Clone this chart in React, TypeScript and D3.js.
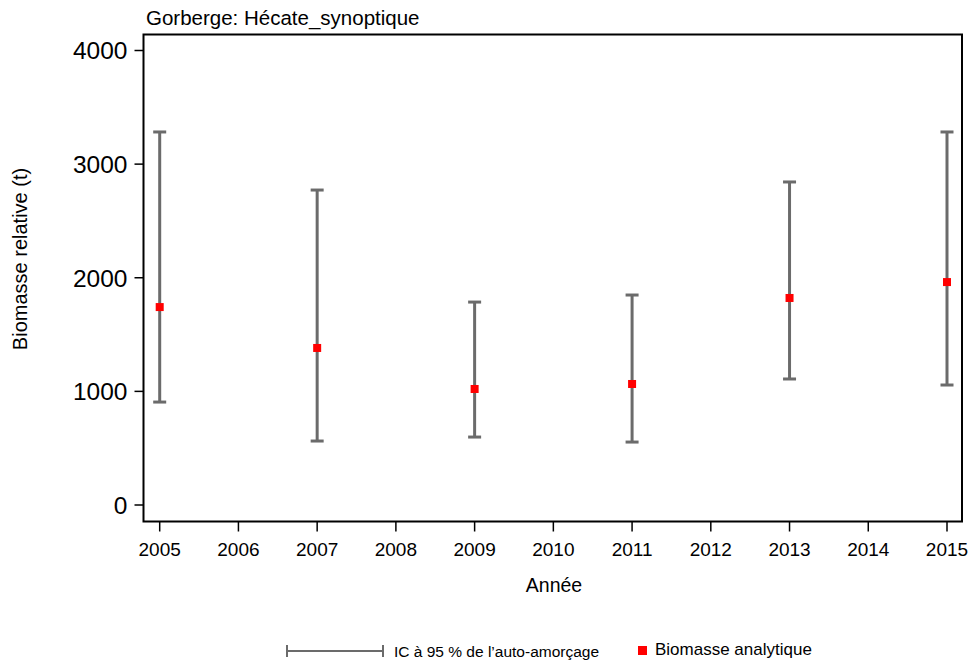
import React from "react";
import * as d3 from "d3";

const years = [2005, 2007, 2009, 2011, 2013, 2015];
const biomass = [1742, 1382, 1021, 1065, 1822, 1962];
const lower = [906, 563, 598, 554, 1109, 1056];
const upper = [3283, 2772, 1786, 1848, 2843, 3283];
const xTicks = [2005, 2006, 2007, 2008, 2009, 2010, 2011, 2012, 2013, 2014, 2015];
const yTicks = [0, 1000, 2000, 3000, 4000];

const W = 972;
const H = 660;
const FONT = "'Liberation Sans', Arial, sans-serif";

export default function App() {
  const left = 143.5, right = 962, top = 34.5, bottom = 521.5;
  const x = d3.scaleLinear().domain([2005, 2015]).range([159.7, 947]);
  const y = d3.scaleLinear().domain([0, 4000]).range([505, 50.5]);
  const grey = "#6b6b6b";
  const cap = 6.5;
  return (
    <svg width={W} height={H} style={{ position: "absolute", left: 0, top: 0, background: "#fff" }} fontFamily={FONT}>
      <text x={146} y={25} fontSize={20.5} fill="#000">Gorberge: Hécate_synoptique</text>
      {/* frame */}
      <rect x={left} y={top} width={right - left} height={bottom - top} fill="none" stroke="#000" strokeWidth={2} />
      {/* y axis */}
      {yTicks.map((t) => (
        <g key={t}>
          <line x1={left - 9} x2={left} y1={y(t)} y2={y(t)} stroke="#000" strokeWidth={1.5} />
          <text x={left - 16} y={y(t)} dy="0.36em" textAnchor="end" fontSize={24.5} fill="#000">{t}</text>
        </g>
      ))}
      {/* x axis */}
      {xTicks.map((t) => (
        <g key={t}>
          <line x1={x(t)} x2={x(t)} y1={bottom} y2={bottom + 10} stroke="#000" strokeWidth={1.5} />
          <text x={x(t)} y={556} textAnchor="middle" fontSize={19} fill="#000">{t}</text>
        </g>
      ))}
      <text x={554} y={592} textAnchor="middle" fontSize={19.5} fill="#000">Année</text>
      <text transform={`translate(27,${259}) rotate(-90)`} textAnchor="middle" fontSize={20} fill="#000">Biomasse relative (t)</text>
      {/* error bars */}
      {years.map((yr, i) => (
        <g key={yr}>
          <line x1={x(yr)} x2={x(yr)} y1={y(lower[i])} y2={y(upper[i])} stroke={grey} strokeWidth={3} />
          <line x1={x(yr) - cap} x2={x(yr) + cap} y1={y(upper[i])} y2={y(upper[i])} stroke={grey} strokeWidth={3} />
          <line x1={x(yr) - cap} x2={x(yr) + cap} y1={y(lower[i])} y2={y(lower[i])} stroke={grey} strokeWidth={3} />
        </g>
      ))}
      {years.map((yr, i) => (
        <rect key={"p" + yr} x={x(yr) - 4} y={y(biomass[i]) - 4} width={8} height={8} fill="#ff0000" />
      ))}
      {/* legend */}
      <g>
        <line x1={287} x2={383} y1={651} y2={651} stroke={grey} strokeWidth={2} />
        <line x1={287} x2={287} y1={645} y2={657} stroke={grey} strokeWidth={2} />
        <line x1={383} x2={383} y1={645} y2={657} stroke={grey} strokeWidth={2} />
        <text x={394} y={656.5} fontSize={15.5} fill="#000">IC à 95 % de l’auto-amorçage</text>
        <rect x={638} y={646} width={9} height={9} fill="#ff0000" />
        <text x={655} y={655} fontSize={17} fill="#000">Biomasse analytique</text>
      </g>
    </svg>
  );
}
